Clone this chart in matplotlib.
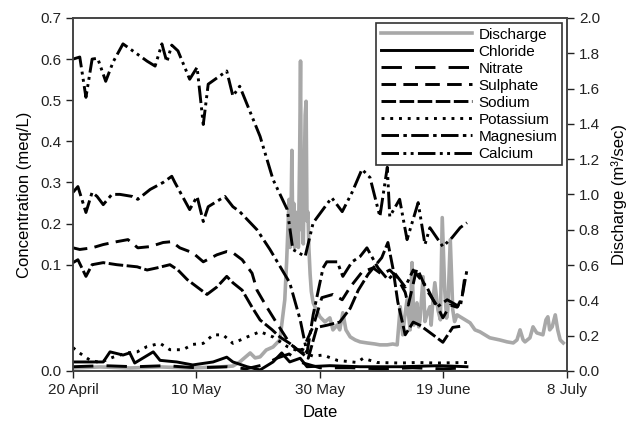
import numpy as np
import matplotlib
matplotlib.use("Agg")
import matplotlib.pyplot as plt

plt.rcParams['font.family'] = ['Liberation Sans', 'DejaVu Sans']

# days since 20 April
tick_days = [0, 20, 40, 60, 80]
tick_labels = ['20 April', '10 May', '30 May', '19 June', '8 July']

calcium_day = [0, 1.1, 2.1, 3.1, 4.0, 5.3, 6.5, 8.1, 10.9, 12.0, 13.3, 14.4, 15.2, 16.0, 17.0,
               18.9, 20.1, 21.1, 21.9, 24.9, 25.9, 27.0, 30.3, 32.4, 34.7, 35.6, 37.6, 38.9,
               41.9, 43.6, 45.2, 46.8, 48.1, 49.7, 50.9, 51.3, 52.9, 54.1, 55.9, 57.0, 57.8,
               59.9, 61.4, 62.7, 63.8]
calcium = [0.600, 0.605, 0.507, 0.600, 0.602, 0.546, 0.593, 0.637, 0.607, 0.595, 0.583, 0.637,
           0.593, 0.634, 0.620, 0.551, 0.580, 0.441, 0.539, 0.571, 0.510, 0.534, 0.412, 0.307,
           0.234, 0.137, 0.120, 0.202, 0.263, 0.229, 0.276, 0.332, 0.312, 0.217, 0.337, 0.217,
           0.259, 0.161, 0.251, 0.149, 0.190, 0.144, 0.166, 0.190, 0.202]

magnesium_day = [0, 0.8, 2.1, 3.1, 3.9, 4.9, 6.3, 7.6, 9.6, 10.5, 12.5, 14.6, 16.0, 16.5, 18.9,
                 20.1, 21.1, 21.9, 24.6, 25.9, 27.0, 29.8, 31.9, 35.1, 36.8, 37.9, 38.9, 40.5,
                 41.1, 42.8, 43.7, 45.2, 46.5, 47.6, 49.4, 51.0, 52.1, 53.8, 55.1, 57.3, 58.9,
                 60.6, 62.7, 63.8]
magnesium = [0.276, 0.290, 0.227, 0.276, 0.266, 0.246, 0.271, 0.271, 0.266, 0.259, 0.283, 0.300,
             0.315, 0.300, 0.234, 0.266, 0.205, 0.241, 0.266, 0.241, 0.229, 0.185, 0.137, 0.083,
             0.048, 0.017, 0.053, 0.097, 0.107, 0.107, 0.089, 0.107, 0.120, 0.141, 0.097, 0.086,
             0.092, 0.079, 0.095, 0.079, 0.060, 0.067, 0.060, 0.095]

sulphate_day = [0, 1.1, 3.1, 4.9, 7.1, 8.9, 10.5, 12.5, 14.6, 16.0, 17.3, 19.4, 21.1, 23.3, 24.9,
                25.9, 27.4, 29.0, 29.8, 31.4, 33.0, 34.0, 35.1, 36.3, 37.2, 38.9, 40.3, 42.1,
                43.6, 44.9, 46.8, 48.6, 50.0, 51.3, 52.5, 53.8, 54.3, 55.7, 57.3, 58.9, 59.9,
                61.1, 62.2, 63.0, 63.5]
sulphate = [0.141, 0.137, 0.141, 0.149, 0.156, 0.161, 0.141, 0.144, 0.154, 0.156, 0.141, 0.129,
            0.107, 0.124, 0.132, 0.129, 0.112, 0.092, 0.076, 0.060, 0.045, 0.036, 0.026, 0.020,
            0.020, 0.042, 0.069, 0.072, 0.067, 0.079, 0.093, 0.097, 0.091, 0.095, 0.088, 0.074,
            0.062, 0.097, 0.076, 0.062, 0.050, 0.062, 0.060, 0.069, 0.091]

sodium_day = [0, 0.8, 2.1, 3.1, 4.9, 7.1, 10.4, 12.0, 13.6, 15.7, 17.0, 18.5, 20.1, 21.7, 23.3,
              24.9, 25.9, 27.4, 29.0, 30.3, 32.2, 33.5, 35.1, 36.8, 38.1, 39.5, 41.1, 43.2,
              44.9, 46.2, 47.8, 50.0, 51.0, 51.8, 52.6, 53.8, 55.1, 56.2, 58.3, 59.9, 61.5, 62.7]
sodium = [0.105, 0.112, 0.089, 0.100, 0.105, 0.100, 0.098, 0.095, 0.097, 0.100, 0.095, 0.086,
          0.079, 0.072, 0.079, 0.089, 0.083, 0.076, 0.060, 0.048, 0.039, 0.032, 0.026, 0.018,
          0.012, 0.041, 0.043, 0.046, 0.059, 0.076, 0.091, 0.117, 0.154, 0.097, 0.065, 0.034,
          0.046, 0.043, 0.034, 0.027, 0.041, 0.042]

potassium_day = [0, 0.8, 2.8, 4.4, 6.5, 8.7, 10.4, 12.0, 14.1, 15.7, 17.8, 19.4, 21.1, 22.7, 24.3,
                 25.9, 28.2, 30.3, 32.4, 34.7, 36.8, 38.9, 40.5, 42.8, 46.0, 47.0, 49.2, 53.0,
                 55.7, 58.9, 63.8]
potassium = [0.022, 0.018, 0.010, 0.008, 0.013, 0.017, 0.018, 0.023, 0.026, 0.020, 0.020, 0.025,
             0.026, 0.034, 0.034, 0.026, 0.032, 0.037, 0.032, 0.023, 0.018, 0.014, 0.015, 0.010,
             0.008, 0.012, 0.008, 0.0075, 0.008, 0.0075, 0.008]

chloride_day = [0, 4.9, 6.0, 8.1, 9.2, 10.0, 13.0, 14.1, 16.8, 19.4, 22.7, 24.9, 25.9, 28.2, 30.3,
                32.4, 33.8, 35.1, 36.8, 37.9, 41.6, 46.5, 53.0, 59.4, 63.8]
chloride = [0.0085, 0.0085, 0.018, 0.015, 0.017, 0.0075, 0.018, 0.010, 0.0085, 0.0057, 0.0085,
            0.013, 0.0085, 0.004, 0.001, 0.0085, 0.017, 0.0085, 0.012, 0.004, 0.005, 0.004,
            0.004, 0.005, 0.004]

nitrate_day = [0, 5, 10, 15, 20, 25, 28, 31, 33, 35, 37, 40, 45, 50, 55, 60, 63.8]
nitrate = [0.004, 0.005, 0.004, 0.005, 0.003, 0.004, 0.002, 0.006, 0.012, 0.016, 0.008, 0.003,
           0.003, 0.002, 0.003, 0.002, 0.003]

discharge_day = [0.0, 4.4, 9.2, 14.1, 18.9, 23.8, 25.9, 27.0, 28.7, 29.5, 30.3, 31.3, 32.4, 33.5,
                 34.3, 34.6, 34.8, 35.0, 35.15, 35.3, 35.45, 35.6, 35.75, 35.9, 36.05, 36.2,
                 36.35, 36.5, 36.7, 36.85, 37.0, 37.15, 37.3, 37.45, 37.6, 37.75, 37.9, 38.05,
                 38.2, 38.4, 38.6, 38.9, 39.4, 40.0, 40.8, 41.6, 42.1, 42.8, 43.2,
                 43.7, 44.2, 44.9, 45.7, 46.5, 47.6, 48.9, 49.7, 50.9, 51.8, 52.5, 53.0, 53.4,
                 53.7, 54.1, 54.6, 54.9, 55.2, 55.4, 55.7, 56.0, 56.2, 56.7, 57.0, 57.3, 57.8,
                 58.0, 58.3, 58.6, 59.1, 59.5, 59.8, 60.2, 60.5, 60.7, 61.1, 61.5, 61.8, 62.2,
                 62.7, 63.5, 64.3, 65.1, 65.9, 67.5, 69.1, 70.3, 71.3, 71.9, 72.4, 72.9,
                 73.2, 74.0, 74.5, 75.1, 76.1, 76.6, 76.9, 77.2, 77.6, 78.1, 78.5, 78.9, 79.4]
discharge = [0.017, 0.023, 0.017, 0.023, 0.017, 0.023, 0.028, 0.051, 0.102, 0.074, 0.080, 0.119,
             0.136, 0.176, 0.403, 0.620, 0.800, 0.972, 0.700, 0.850, 1.250, 0.750, 0.950, 0.700,
             0.900, 0.720, 0.850, 0.700, 1.200, 1.756, 0.800, 0.950, 0.720, 1.100, 1.450, 1.528,
             0.850, 0.900, 0.700, 0.550, 0.450, 0.386, 0.347, 0.307, 0.278, 0.301, 0.233, 0.261,
             0.233, 0.330, 0.233, 0.193, 0.176, 0.165, 0.159, 0.153, 0.148, 0.148, 0.153, 0.148,
             0.364, 0.205, 0.300, 0.403, 0.233, 0.614, 0.260, 0.290, 0.386, 0.250, 0.290, 0.534,
             0.280, 0.318, 0.364, 0.260, 0.403, 0.500, 0.347, 0.290, 0.869, 0.460, 0.300, 0.347,
             0.744, 0.347, 0.280, 0.318, 0.307, 0.290, 0.273, 0.233, 0.222, 0.188, 0.176, 0.165,
             0.159, 0.176, 0.233, 0.176, 0.165, 0.188, 0.250, 0.216, 0.205, 0.290, 0.307, 0.233,
             0.250, 0.318, 0.233, 0.176, 0.159]

# broken concentration axis: 0-0.1 is stretched
K = 2.585


def fwd(v):
    v = np.asarray(v, dtype=float)
    return np.where(v <= 0.1, v * K, 0.1 * K + (v - 0.1))


def inv(u):
    u = np.asarray(u, dtype=float)
    return np.where(u <= 0.1 * K, u / K, 0.1 + (u - 0.1 * K))


fig = plt.figure(figsize=(6.34, 4.21), dpi=100)
ax = fig.add_axes([0.1151, 0.1188, 0.7792, 0.8385])
ax2 = ax.twinx()

lw = 2.1
h_q, = ax2.plot(discharge_day, discharge, color='#a8a8a8', lw=2.6, label='Discharge')
ax2.set_ylim(0, 2.0)
ax2.set_yticks(np.arange(0, 2.01, 0.2))
ax2.set_yticklabels([f'{v:.1f}' for v in np.arange(0, 2.01, 0.2)])
ax2.set_ylabel('Discharge (m³/sec)', fontsize=12, labelpad=8)

ax.set_zorder(ax2.get_zorder() + 1)
ax.patch.set_visible(False)
ax.set_yscale('function', functions=(fwd, inv))

hs = [h_q]
hs += ax.plot(chloride_day, chloride, color='black', lw=lw, label='Chloride')
hs += ax.plot(nitrate_day, nitrate, color='black', lw=lw, dashes=(7, 4.5), label='Nitrate')
hs += ax.plot(sulphate_day, sulphate, color='black', lw=lw, dashes=(5, 2.5), label='Sulphate')
hs += ax.plot(sodium_day, sodium, color='black', lw=lw, dashes=(5, 1.2), label='Sodium')
hs += ax.plot(potassium_day, potassium, color='black', lw=lw, dashes=(1, 2), label='Potassium')
hs += ax.plot(magnesium_day, magnesium, color='black', lw=lw, dashes=(6, 1.5, 1.2, 1.5),
              label='Magnesium')
hs += ax.plot(calcium_day, calcium, color='black', lw=lw,
              dashes=(6, 1.5, 1, 1.5, 1, 1.5), label='Calcium')

ax.set_ylim(0, 0.7)
ax.set_yticks(np.arange(0, 0.71, 0.1))
ax.set_yticklabels([f'{v:.1f}' for v in np.arange(0, 0.71, 0.1)])
ax.set_ylabel('Concentration (meq/L)', fontsize=12, labelpad=6)
ax.set_xlim(0, 80)
ax.set_xticks(tick_days)
ax.set_xticklabels(tick_labels)
ax.set_xlabel('Date', fontsize=12, labelpad=6)

for a in (ax, ax2):
    a.tick_params(labelsize=11, direction='out', length=5, width=1, colors='#222222')
    for s in a.spines.values():
        s.set_color('#444444')
        s.set_linewidth(1.2)

leg = ax.legend(handles=hs, loc='upper right', bbox_to_anchor=(0.99, 0.986),
                borderaxespad=0, fontsize=11, handlelength=6.0, handletextpad=0.4,
                labelspacing=0.2, borderpad=0.3, fancybox=False, framealpha=1)
leg.get_frame().set_edgecolor('#333333')
leg.get_frame().set_linewidth(1.2)

fig.savefig('out.png', dpi=100)
